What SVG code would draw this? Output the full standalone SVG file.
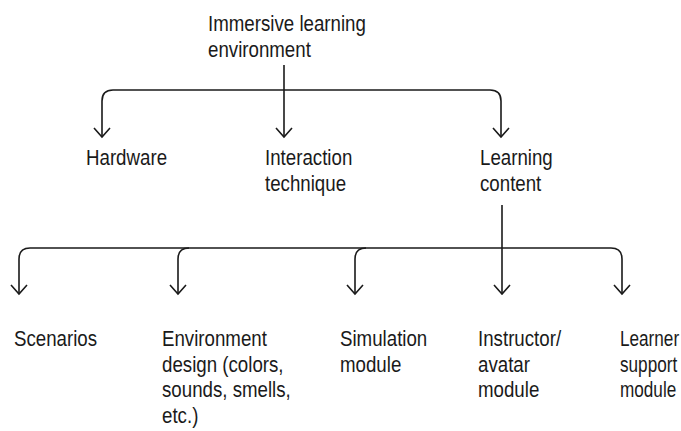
<svg xmlns="http://www.w3.org/2000/svg" width="681" height="431" viewBox="0 0 681 431">
<style>
text{font-family:"Liberation Sans",Arial,sans-serif;font-size:22px;fill:#1a1a1a}
.c{fill:none;stroke:#1a1a1a;stroke-width:1.6}
</style>
<rect width="681" height="431" fill="#fff"/>
<g id="connectors">
<path class="c" d="M102,137 V101 Q102,90 113,90 H490 Q501,90 501,101 V137"/>
<path class="c" d="M284,65 V137"/>
<path class="c" d="M94,128 L102,137 L110,128 M276,128 L284,137 L292,128 M493,128 L501,137 L509,128"/>
<path class="c" d="M19,294 V259 Q19,248 30,248 H611 Q622,248 622,259 V294"/>
<path class="c" d="M178,294 V259 Q178,248 189,248"/>
<path class="c" d="M355,294 V259 Q355,248 366,248"/>
<path class="c" d="M502,205 V294"/>
<path class="c" d="M11,285 L19,294 L27,285 M170,285 L178,294 L186,285 M347,285 L355,294 L363,285 M494,285 L502,294 L510,285 M614,285 L622,294 L630,285"/>
</g>
<g id="root" transform="matrix(0.85 0 0 1 208 0)"><text x="0" y="31">Immersive learning</text><text x="0" y="57">environment</text></g>
<g id="hardware" transform="matrix(0.85 0 0 1 86 0)"><text x="0" y="165">Hardware</text></g>
<g id="interaction" transform="matrix(0.85 0 0 1 265 0)"><text x="0" y="165">Interaction</text><text x="0" y="191">technique</text></g>
<g id="learning" transform="matrix(0.85 0 0 1 480 0)"><text x="0" y="165">Learning</text><text x="0" y="191">content</text></g>
<g id="scenarios" transform="matrix(0.85 0 0 1 14 0)"><text x="0" y="346">Scenarios</text></g>
<g id="environment" transform="matrix(0.85 0 0 1 162 0)"><text x="0" y="346">Environment</text><text x="0" y="371.7">design (colors,</text><text x="0" y="397.3">sounds, smells,</text><text x="0" y="423">etc.)</text></g>
<g id="simulation" transform="matrix(0.85 0 0 1 340 0)"><text x="0" y="346">Simulation</text><text x="0" y="371.7">module</text></g>
<g id="instructor" transform="matrix(0.85 0 0 1 478 0)"><text x="0" y="346">Instructor/</text><text x="0" y="371.7">avatar</text><text x="0" y="397.3">module</text></g>
<g id="learner" transform="matrix(0.78 0 0 1 620 0)"><text x="0" y="346">Learner</text><text x="0" y="371.7">support</text><text x="0" y="397.3">module</text></g>
</svg>
